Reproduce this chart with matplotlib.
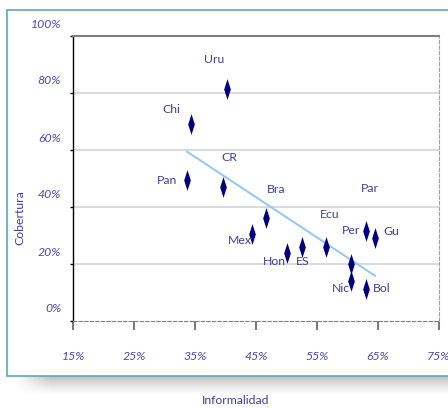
import numpy as np
import matplotlib
matplotlib.use("Agg")
import matplotlib.pyplot as plt
from matplotlib.path import Path
from matplotlib.patches import Rectangle
from matplotlib.ticker import PercentFormatter, MultipleLocator
from matplotlib.transforms import ScaledTranslation

# data (percent)
countries = ["Uru", "Chi", "Pan", "CR", "Bra", "Mex", "Hon", "ES", "Ecu",
             "Per", "Gu", "Par", "Nic", "Bol"]
informalidad = [40.3, 34.3, 33.7, 39.6, 46.7, 44.3, 50.0, 52.5, 56.5,
                63.1, 64.5, 60.6, 60.6, 63.1]
cobertura = [81.3, 69.2, 49.4, 47.0, 36.1, 30.5, 23.9, 26.0, 25.8,
             31.7, 29.1, 20.0, 14.0, 11.4]
x_ticks = [15, 25, 35, 45, 55, 65, 75]
y_ticks = [0, 20, 40, 60, 80, 100]

# label placement, pixel offsets from the marker (layout only)
label_offsets = {
    "Uru": (-13, 30), "Chi": (-19, 14), "Pan": (-20, 0), "CR": (6, 30),
    "Bra": (10, 29), "Mex": (-12, -6), "Hon": (-12, -9), "ES": (1, -15),
    "Ecu": (4, 33), "Per": (-15, 0), "Gu": (16, 7), "Par": (19, 75),
    "Nic": (-10, -7), "Bol": (15, 0),
}

TXT = "#40409C"
FS = 8.8
plt.rcParams["font.family"] = ["Lato", "DejaVu Sans"]

W, H = 448, 408
fig = plt.figure(figsize=(W / 100, H / 100), dpi=100)

# shadow under the frame
sh = fig.add_axes([15 / W, 1 - 396 / H, 1 - 15 / W, 20 / H])
sh.set_zorder(-2)
sh.axis("off")
yy = np.linspace(1, 0, 40)[:, None]
xx = np.clip(np.linspace(0, 1, 200)[None, :] / 0.08, 0, 1)
shade = (yy ** 1.4) * xx * 0.45
img = np.ones((40, 200, 4)) * 0.42
img[..., 3] = shade
sh.imshow(img, aspect="auto", extent=(0, 1, 0, 1))
sh.set_xlim(0, 1)
sh.set_ylim(0, 1)

# frame
fig.patches.append(Rectangle((7 / W, 1 - 376 / H), 1.2, (376 - 10) / H,
                             transform=fig.transFigure, facecolor="white",
                             edgecolor="#5AA8C0", linewidth=1.2, zorder=-1))

ax = fig.add_axes([73 / W, 1 - 321 / H, (439 - 73) / W, (321 - 36) / H])
ax.set_zorder(2)
ax.set_xlim(15, 75)
ax.set_ylim(0, 100)
ax.set_xticks(x_ticks)
ax.set_yticks(y_ticks)
ax.xaxis.set_major_formatter(PercentFormatter(100, decimals=0))
ax.yaxis.set_major_formatter(PercentFormatter(100, decimals=0))

for v in y_ticks[1:-1]:
    ax.axhline(v, color="#D9D9D9", lw=1.4, zorder=1)

ax.spines["left"].set_color("black")
ax.spines["left"].set_linewidth(1.0)
ax.spines["top"].set_color("#7F7F7F")
ax.spines["top"].set_linewidth(1.5)
ax.spines["right"].set_color("#A0A0A0")
ax.spines["right"].set_linestyle((0, (3, 2)))
ax.spines["bottom"].set_color("#7F7F7F")
ax.spines["bottom"].set_linestyle((0, (3, 2)))

ax.tick_params(axis="x", length=6.5, width=1.2, color="#606060", pad=15,
               labelsize=FS, labelcolor="#4A4AAE")
ax.tick_params(axis="y", length=2.5, width=1.0, color="black", pad=6,
               labelsize=FS, labelcolor="#4A4AAE")
for lab in ax.get_xticklabels() + ax.get_yticklabels():
    lab.set_fontstyle("italic")
for lab in ax.get_yticklabels():
    lab.set_transform(lab.get_transform() + ScaledTranslation(0, 0.13, fig.dpi_scale_trans))

# linear trend over the data range
slope, icpt = np.polyfit(informalidad, cobertura, 1)
xs = np.array([min(informalidad), max(informalidad)])
ax.plot(xs, slope * xs + icpt, color="#8EC8F5", lw=1.4, zorder=2)

thin = Path([(0, 1), (0.32, 0), (0, -1), (-0.32, 0), (0, 1)],
            [Path.MOVETO, Path.LINETO, Path.LINETO, Path.LINETO, Path.CLOSEPOLY])
ax.scatter(informalidad, cobertura, marker=thin, s=15 ** 2, color="#000080",
           zorder=3, linewidths=0)

for name, x, y in zip(countries, informalidad, cobertura):
    dx, dy = label_offsets[name]
    ax.annotate(name, (x, y), xytext=(dx * 0.72, dy * 0.72),
                textcoords="offset points", ha="center", va="center",
                fontsize=FS, color=TXT, zorder=4)

fig.text(20 / W, 1 - 218 / H, "Cobertura", rotation=90, ha="center",
         va="center", fontsize=FS, color=TXT)
fig.text(236 / W, 1 - 400 / H, "Informalidad", ha="center", va="center",
         fontsize=FS, color=TXT)

fig.savefig("out.png", dpi=100)
